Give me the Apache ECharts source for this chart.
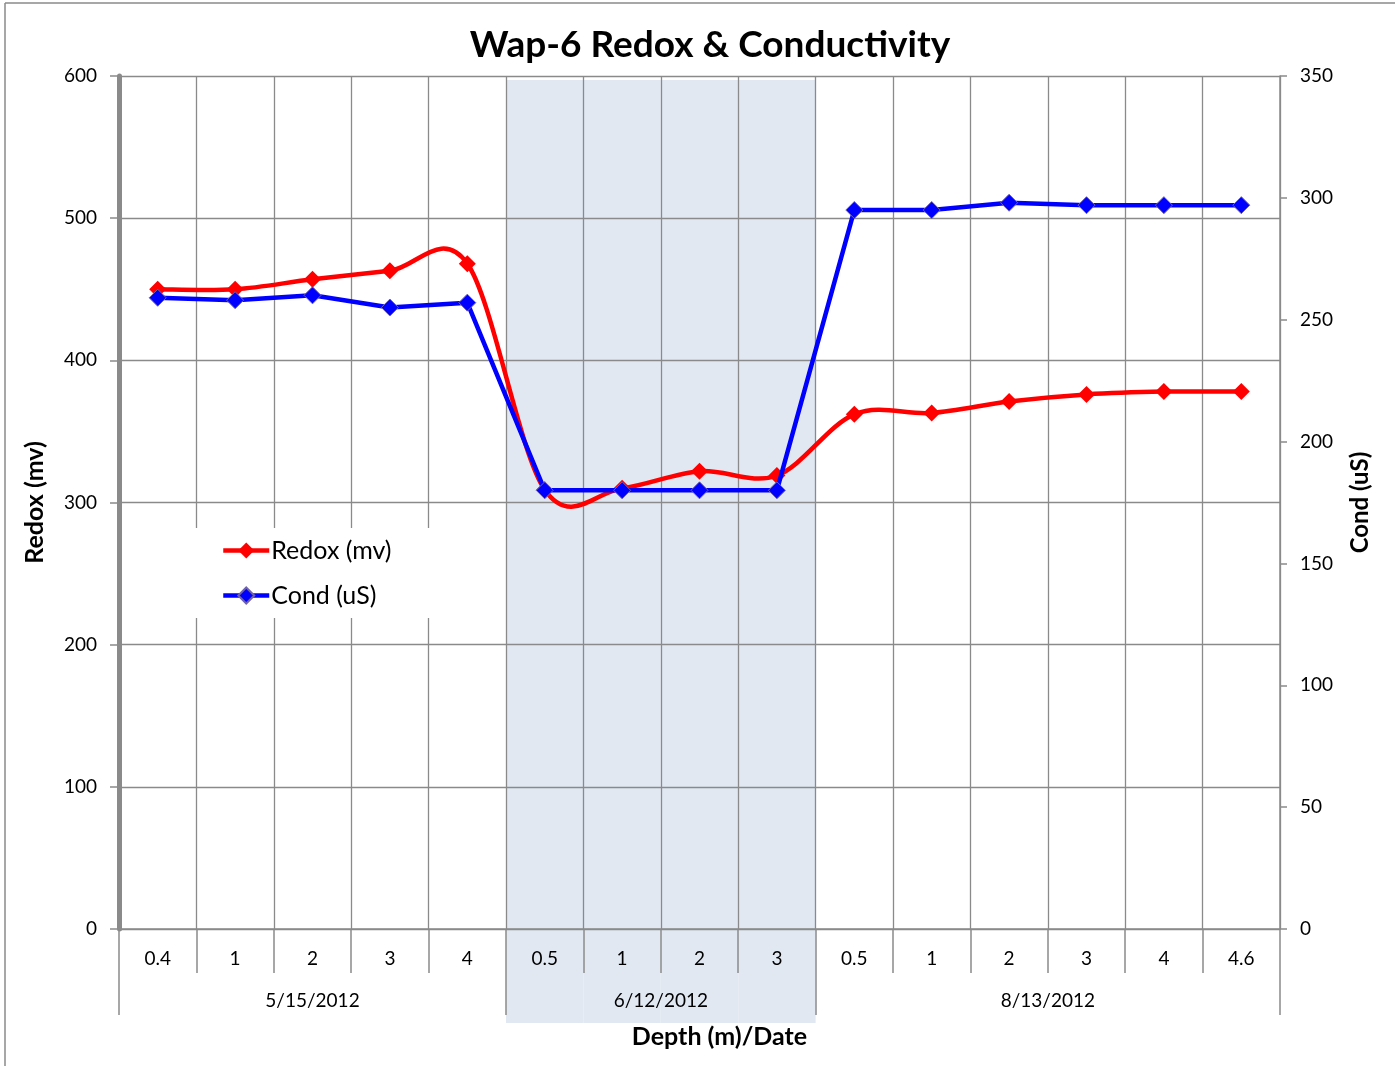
<!DOCTYPE html>
<html>
<head>
<meta charset="utf-8">
<title>Wap-6 Redox &amp; Conductivity</title>
<script src="https://cdn.jsdelivr.net/npm/echarts@6/dist/echarts.min.js"></script>
<style>
  html, body { margin: 0; padding: 0; background: #fff; }
  #chart { width: 1395px; height: 1066px; }
</style>
</head>
<body>
<div id="chart"></div>
<script>
// depth labels (first row of the category axis)
var depths = ['0.4', '1', '2', '3', '4', '0.5', '1', '2', '3', '0.5', '1', '2', '3', '4', '4.6'];
// sampling dates and how many depths each one covers
var dates = ['5/15/2012', '6/12/2012', '8/13/2012'];
var groupSizes = [5, 4, 6];
var shadedGroup = 1;

var redox = [450, 450, 457, 463, 468, 309, 310, 322, 319, 362, 363, 371, 376, 378, 378];
var cond = [259, 258, 260, 255, 257, 180, 180, 180, 180, 295, 295, 298, 297, 297, 297];

var redoxTicks = { min: 0, max: 600, interval: 100 };
var condTicks = { min: 0, max: 350, interval: 50 };

// second row: half-category slots so group centres and group borders both land on a slot
var dateSlots = [];
for (var i = 0; i <= depths.length * 2; i++) dateSlots.push('');
var groupBorders = { 0: true };
var shade = depths.map(function () { return '-'; });
var start = 0;
groupSizes.forEach(function (n, g) {
    dateSlots[start * 2 + n] = dates[g];
    if (g === shadedGroup) {
        for (var k = start; k < start + n; k++) shade[k] = 1;
    }
    start += n;
    groupBorders[start * 2] = true;
});

var gray = '#8a8a8a';
var red = '#ff0000';
var blue = '#0000ff';
var font = 'Lato, "Open Sans", sans-serif';

// excel style smoothed line: catmull-rom segments through the points
function smoothSegment(params, api) {
    var i = params.dataIndex;
    var n = redox.length;
    if (i >= n - 1) return null;
    var pt = function (k) {
        k = Math.max(0, Math.min(n - 1, k));
        return api.coord([k, redox[k]]);
    };
    var p0 = pt(i - 1), p1 = pt(i), p2 = pt(i + 1), p3 = pt(i + 2);
    return {
        type: 'bezierCurve',
        shape: {
            x1: p1[0], y1: p1[1],
            cpx1: p1[0] + (p2[0] - p0[0]) / 6, cpy1: p1[1] + (p2[1] - p0[1]) / 6,
            cpx2: p2[0] - (p3[0] - p1[0]) / 6, cpy2: p2[1] - (p3[1] - p1[1]) / 6,
            x2: p2[0], y2: p2[1]
        },
        style: { stroke: red, lineWidth: 4.5, fill: null, lineCap: 'round' }
    };
}

var chart = echarts.init(document.getElementById('chart'));

var option = {
    backgroundColor: '#fff',
    animation: false,
    textStyle: { fontFamily: font, color: '#000' },
    title: {
        text: 'Wap-6 Redox & Conductivity',
        left: 705,
        textAlign: 'center',
        top: 22,
        textStyle: { fontFamily: font, fontSize: 37, fontWeight: 'bold', color: '#000' }
    },
    legend: {
        data: [
            { name: 'Redox (mv)', lineStyle: { width: 4.5, color: red, opacity: 1 } },
            { name: 'Cond (uS)', lineStyle: { width: 4.5, color: blue, opacity: 1 } }
        ],
        orient: 'vertical',
        left: 192,
        top: 528,
        padding: [10, 40, 10, 29],
        itemWidth: 46,
        itemHeight: 20,
        itemGap: 20,
        backgroundColor: '#fff',
        z: 6,
        textStyle: { fontFamily: font, fontSize: 25, color: '#000', padding: [0, 0, 0, -3] }
    },
    graphic: [
        { type: 'line', shape: { x1: 5, y1: 3, x2: 1395, y2: 3 }, style: { stroke: gray, lineWidth: 1.5 } },
        { type: 'line', shape: { x1: 5, y1: 3, x2: 5, y2: 1066 }, style: { stroke: gray, lineWidth: 1.5 } }
    ],
    grid: [
        { left: 119, right: 115, top: 76, bottom: 137 },
        { left: 119, right: 115, top: 80, bottom: 43 }
    ],
    xAxis: [
        {
            type: 'category',
            gridIndex: 0,
            data: depths,
            z: 1,
            axisLine: { show: true, lineStyle: { color: gray, width: 1.5 } },
            axisTick: { show: true, interval: 0, length: 44, lineStyle: { color: gray, width: 1.5 } },
            axisLabel: { interval: 0, margin: 20, fontSize: 19, color: '#000', fontFamily: font },
            splitLine: { show: true, interval: 0, lineStyle: { color: gray, width: 1.3 } }
        },
        {
            type: 'category',
            gridIndex: 0,
            position: 'bottom',
            boundaryGap: false,
            data: dateSlots,
            z: 1,
            axisLine: { show: false },
            axisTick: {
                show: true,
                length: 86,
                interval: function (idx) { return !!groupBorders[idx]; },
                lineStyle: { color: gray, width: 1.5 }
            },
            axisLabel: { interval: 0, margin: 62, fontSize: 19, color: '#000', fontFamily: font },
            splitLine: { show: false },
            name: 'Depth (m)/Date',
            nameLocation: 'middle',
            nameGap: 95,
            nameTextStyle: { fontFamily: font, fontSize: 25, fontWeight: 'bold', color: '#000', padding: [0, 0, 0, 40] }
        },
        {
            type: 'category',
            gridIndex: 1,
            data: depths,
            show: false
        }
    ],
    yAxis: [
        {
            type: 'value',
            gridIndex: 0,
            position: 'left',
            min: redoxTicks.min,
            max: redoxTicks.max,
            interval: redoxTicks.interval,
            z: 1,
            name: 'Redox (mv)',
            nameLocation: 'middle',
            nameRotate: 90,
            nameGap: 72,
            nameTextStyle: { fontFamily: font, fontSize: 25, fontWeight: 'bold', color: '#000' },
            axisLine: { show: true, lineStyle: { color: gray, width: 5 } },
            axisTick: { show: true, length: 9, lineStyle: { color: gray, width: 1.5 } },
            axisLabel: { margin: 22, fontSize: 19, color: '#000', fontFamily: font },
            splitLine: { show: true, lineStyle: { color: gray, width: 1.3 } }
        },
        {
            type: 'value',
            gridIndex: 0,
            position: 'right',
            min: condTicks.min,
            max: condTicks.max,
            interval: condTicks.interval,
            z: 1,
            name: 'Cond (uS)',
            nameLocation: 'middle',
            nameRotate: 90,
            nameGap: 68,
            nameTextStyle: { fontFamily: font, fontSize: 24, fontWeight: 'bold', color: '#000' },
            axisLine: { show: true, lineStyle: { color: gray, width: 1.5 } },
            axisTick: { show: true, length: 7, lineStyle: { color: gray, width: 1.5 } },
            axisLabel: { margin: 20, fontSize: 19, color: '#000', fontFamily: font },
            splitLine: { show: false }
        },
        {
            type: 'value',
            gridIndex: 1,
            min: 0,
            max: 1,
            show: false
        }
    ],
    series: [
        {
            name: 'band',
            type: 'bar',
            xAxisIndex: 2,
            yAxisIndex: 2,
            data: shade,
            barWidth: '100%',
            silent: true,
            z: 0,
            itemStyle: { color: '#e1e8f2' }
        },
        {
            name: 'Redox curve',
            type: 'custom',
            xAxisIndex: 0,
            yAxisIndex: 0,
            data: redox.map(function (v, k) { return [k, v]; }),
            renderItem: smoothSegment,
            silent: true,
            z: 3
        },
        {
            name: 'Redox (mv)',
            type: 'line',
            xAxisIndex: 0,
            yAxisIndex: 0,
            data: redox,
            z: 4,
            symbol: 'diamond',
            symbolSize: 17,
            lineStyle: { color: red, width: 0, opacity: 0 },
            itemStyle: { color: red }
        },
        {
            name: 'Cond (uS)',
            type: 'line',
            xAxisIndex: 0,
            yAxisIndex: 1,
            data: cond,
            z: 5,
            symbol: 'diamond',
            symbolSize: 17,
            lineStyle: { color: blue, width: 4.5 },
            itemStyle: { color: blue, borderColor: '#6f62b0', borderWidth: 1 }
        }
    ]
};

chart.setOption(option);
</script>
</body>
</html>
